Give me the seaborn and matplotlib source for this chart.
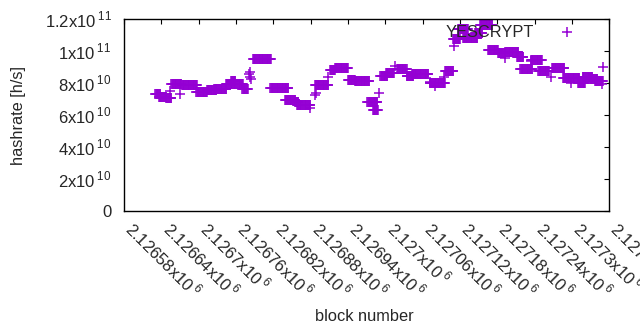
import numpy as np
import pandas as pd
import matplotlib
matplotlib.use("Agg")
import matplotlib.pyplot as plt
import seaborn as sns

# runs of blocks sharing the same hashrate estimate (first block, last block, rate in 1e10 h/s)
run_start = [2126630, 2126636, 2126648, 2126656, 2126673, 2126696, 2126713, 2126725,
             2126744, 2126752, 2126770, 2126787, 2126815, 2126839, 2126855, 2126858,
             2126887, 2126911, 2126919, 2126940, 2126951, 2126971, 2126980, 2126992,
             2127001, 2127019, 2127034, 2127043, 2127071, 2127096, 2127109, 2127117,
             2127125, 2127144, 2127152, 2127165, 2127181, 2127193, 2127212, 2127217,
             2127234, 2127246, 2127268, 2127286, 2127310, 2127317, 2127329, 2127337]
run_end = [2126638, 2126648, 2126656, 2126672, 2126697, 2126713, 2126728, 2126744,
           2126771, 2126759, 2126779, 2126816, 2126844, 2126855, 2126860, 2126879,
           2126908, 2126919, 2126940, 2126951, 2126974, 2126987, 2126988, 2127003,
           2127014, 2127034, 2127045, 2127069, 2127096, 2127109, 2127120, 2127133,
           2127148, 2127156, 2127172, 2127181, 2127193, 2127214, 2127222, 2127236,
           2127252, 2127263, 2127288, 2127312, 2127321, 2127333, 2127341, 2127350]
run_rate = [7.31, 7.125, 7.06, 7.94, 7.875, 7.44, 7.56, 7.625,
            7.94, 8.125, 7.625, 9.5, 7.69, 6.94, 6.81, 6.625,
            7.875, 8.81, 8.94, 8.19, 8.125, 6.81, 6.31, 8.44,
            8.625, 8.875, 8.44, 8.56, 8.0, 8.75, 10.75, 11.375,
            10.81, 11.125, 11.625, 10.06, 9.875, 9.94, 9.625, 8.875,
            9.44, 8.75, 8.94, 8.31, 8.0, 8.375, 8.25, 8.125]

# isolated points
single_block = [2126654, 2126670, 2126781, 2126782, 2126783, 2126784, 2126879, 2126887,
                2126889, 2126908, 2126990, 2127016, 2127072, 2127080, 2127095, 2127111,
                2127193, 2127234, 2127267, 2127299, 2127350, 2127349]
single_rate = [7.5, 7.31, 8.56, 8.69, 8.375, 8.25, 6.44, 7.25,
               7.375, 8.375, 7.375, 9.06, 8.06, 7.81, 8.375, 10.31,
               9.56, 9.375, 8.375, 8.0, 9.0, 7.94]

xtick_labels = ["2.12658", "2.12664", "2.1267", "2.12676", "2.12682", "2.12688", "2.12694",
                "2.127", "2.12706", "2.12712", "2.12718", "2.12724", "2.1273", "2.12736"]
ytick_values = [0, 2e10, 4e10, 6e10, 8e10, 1e11, 1.2e11]
ytick_labels = ["0", "2x10$\\,^{\\mathregular{10}}$", "4x10$\\,^{\\mathregular{10}}$",
                "6x10$\\,^{\\mathregular{10}}$", "8x10$\\,^{\\mathregular{10}}$",
                "1x10$\\,^{\\mathregular{11}}$", "1.2x10$\\,^{\\mathregular{11}}$"]

blocks, rates = [], []
for s, e, r in zip(run_start, run_end, run_rate):
    for b in range(s, e + 1):
        blocks.append(b)
        rates.append(r * 1e10)
blocks += single_block
rates += [r * 1e10 for r in single_rate]
df = pd.DataFrame({"block": blocks, "hashrate": rates})

sns.set_theme(style="white")
plt.rcParams["font.family"] = ["Liberation Sans", "DejaVu Sans"]
plt.rcParams["mathtext.fontset"] = "custom"
plt.rcParams["mathtext.rm"] = "Liberation Sans"

fig = plt.figure(figsize=(6.4, 3.3), dpi=100)
ax = fig.add_axes([0.194, 0.3606, 0.758, 0.5818])

sns.scatterplot(data=df, x="block", y="hashrate", ax=ax, marker="+", s=45,
                color="#9400d3", linewidth=1.1, label="YESCRYPT")

ax.set_xlim(2126580, 2127360)
ax.set_ylim(0, 1.2e11)
xt = [float(t) * 1e6 for t in xtick_labels]
ax.set_xticks(xt)
ax.set_xticklabels([t + "x10$\\,^{\\mathregular{6}}$" for t in xtick_labels],
                   rotation=-45, ha="left", va="baseline", rotation_mode="anchor", fontsize=12)
ax.set_yticks(ytick_values)
ax.set_yticklabels(ytick_labels, fontsize=12)
ax.tick_params(direction="in", length=3.5, width=0.8, color="black",
               top=True, right=True)
ax.tick_params(axis="y", pad=9)
ax.tick_params(axis="x", pad=14)
for sp in ax.spines.values():
    sp.set_color("black")
    sp.set_linewidth(1.0)

ax.set_xlabel("block number", fontsize=11.8)
ax.xaxis.set_label_coords(0.495, -0.51)
ax.set_ylabel("hashrate [h/s]", fontsize=11.8)
ax.yaxis.set_label_coords(-0.202, 0.5)

ax.legend(loc="center right", bbox_to_anchor=(0.9306, 0.932), frameon=False,
          markerfirst=False, borderpad=0, borderaxespad=0, handlelength=1.0,
          handletextpad=1.54, fontsize=11.8)

fig.savefig("out.png", dpi=100)
